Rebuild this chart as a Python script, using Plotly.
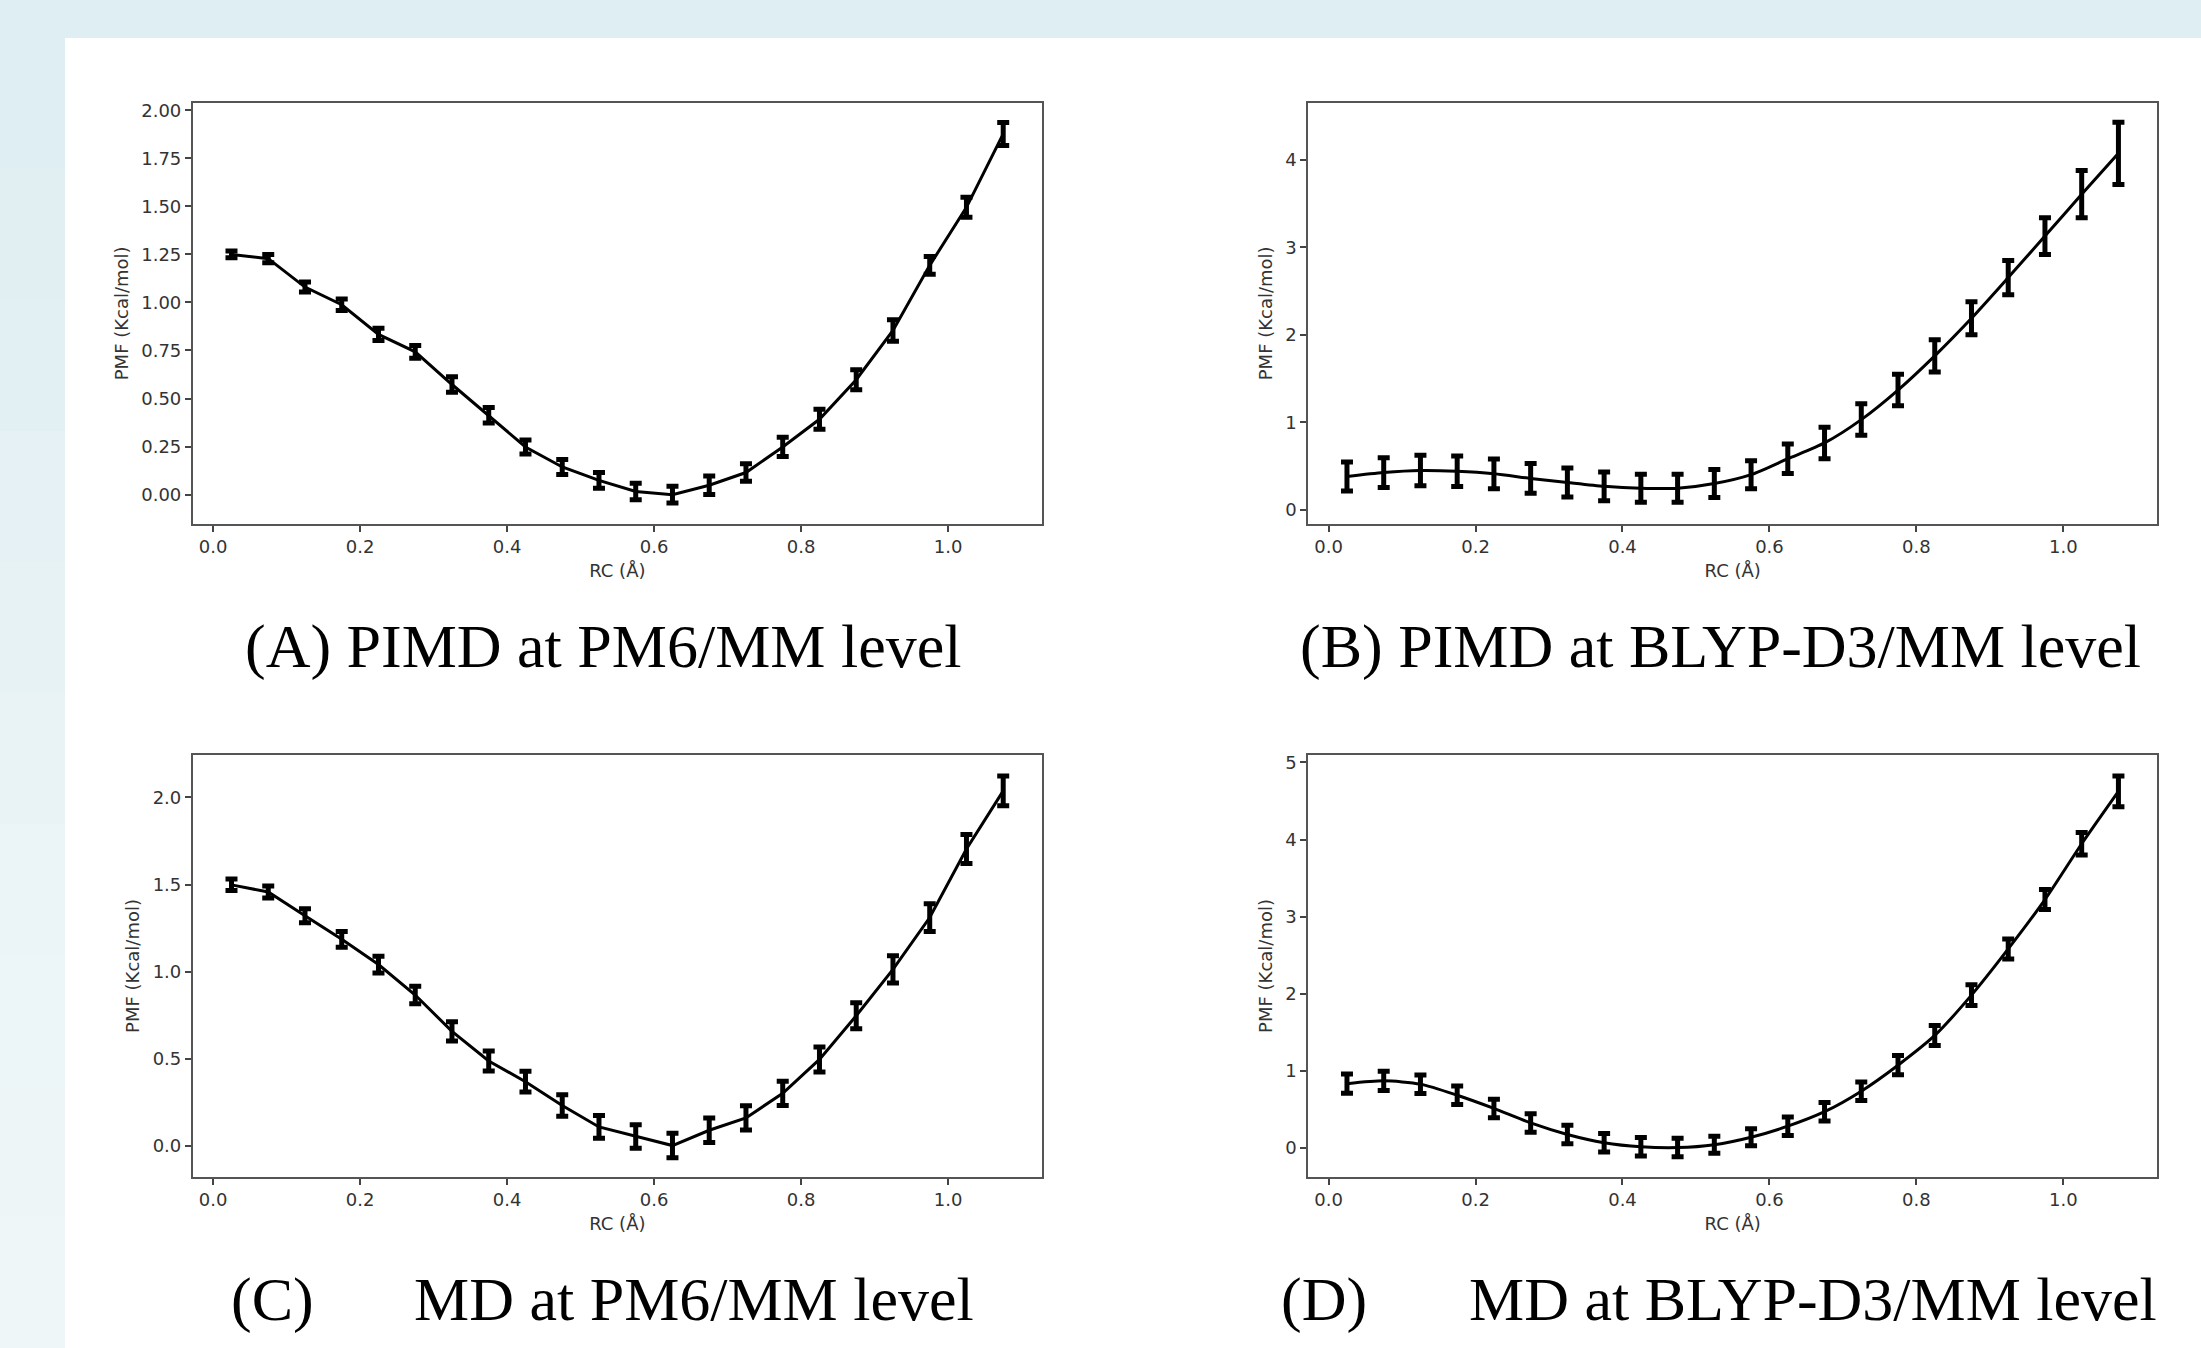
import plotly.graph_objects as go

W, H = 2201, 1348

rc = [0.025, 0.075, 0.125, 0.175, 0.225, 0.275, 0.325, 0.375, 0.425, 0.475, 0.525,
      0.575, 0.625, 0.675, 0.725, 0.775, 0.825, 0.875, 0.925, 0.975, 1.025, 1.075]

pmf_a = [1.25, 1.228, 1.08, 0.988, 0.834, 0.743, 0.573, 0.413, 0.248, 0.144, 0.074,
         0.016, 0.0, 0.049, 0.115, 0.248, 0.392, 0.598, 0.854, 1.193, 1.495, 1.877]
err_a = [0.018, 0.022, 0.026, 0.03, 0.032, 0.033, 0.04, 0.04, 0.036, 0.039, 0.041,
         0.043, 0.044, 0.048, 0.046, 0.05, 0.052, 0.052, 0.056, 0.046, 0.052, 0.06]

pmf_b = [0.379, 0.424, 0.447, 0.438, 0.41, 0.357, 0.31, 0.266, 0.244, 0.244, 0.298,
         0.40, 0.582, 0.763, 1.03, 1.368, 1.76, 2.19, 2.655, 3.13, 3.61, 4.077]
err_b = [0.165, 0.17, 0.175, 0.175, 0.17, 0.17, 0.165, 0.165, 0.16, 0.16, 0.16,
         0.16, 0.17, 0.18, 0.18, 0.18, 0.185, 0.19, 0.195, 0.21, 0.27, 0.355]

pmf_c = [1.498, 1.457, 1.32, 1.185, 1.04, 0.865, 0.656, 0.486, 0.367, 0.23, 0.107,
         0.052, 0.0, 0.088, 0.159, 0.30, 0.495, 0.746, 1.012, 1.31, 1.704, 2.038]
err_c = [0.033, 0.035, 0.04, 0.045, 0.048, 0.05, 0.055, 0.058, 0.06, 0.062, 0.065,
         0.068, 0.07, 0.07, 0.07, 0.07, 0.072, 0.075, 0.078, 0.08, 0.083, 0.086]

pmf_d = [0.83, 0.867, 0.824, 0.68, 0.509, 0.321, 0.171, 0.064, 0.011, 0.0, 0.037,
         0.134, 0.278, 0.466, 0.733, 1.07, 1.456, 1.98, 2.58, 3.22, 3.945, 4.625]
err_d = [0.125, 0.125, 0.12, 0.12, 0.12, 0.12, 0.12, 0.12, 0.12, 0.12, 0.11,
         0.11, 0.12, 0.12, 0.12, 0.125, 0.13, 0.135, 0.13, 0.13, 0.145, 0.2]

x_ticks = [0.0, 0.2, 0.4, 0.6, 0.8, 1.0]
y_ticks_a = [0.0, 0.25, 0.5, 0.75, 1.0, 1.25, 1.5, 1.75, 2.0]
y_ticks_b = [0, 1, 2, 3, 4]
y_ticks_c = [0.0, 0.5, 1.0, 1.5, 2.0]
y_ticks_d = [0, 1, 2, 3, 4, 5]

captions = ["(A) PIMD at PM6/MM level", "(B) PIMD at BLYP-D3/MM level",
            "(C)", "MD at PM6/MM level", "(D)", "MD at BLYP-D3/MM level"]
x_title = "RC (Å)"
y_title = "PMF (Kcal/mol)"

fig = go.Figure()

panels = [
    (pmf_a, err_a, "linear"),
    (pmf_b, err_b, "spline"),
    (pmf_c, err_c, "linear"),
    (pmf_d, err_d, "spline"),
]
for i, (vals, errs, shape) in enumerate(panels):
    sfx = "" if i == 0 else str(i + 1)
    fig.add_trace(go.Scatter(
        x=rc, y=vals, mode="lines",
        line=dict(color="black", width=3, shape=shape, smoothing=0.7),
        error_y=dict(type="data", array=errs, visible=True, color="black",
                     thickness=5, width=6),
        xaxis="x" + sfx, yaxis="y" + sfx, showlegend=False, hoverinfo="skip"))

dom_xl = [192.9 / W, 1041.8 / W]
dom_xr = [1308.4 / W, 2157.0 / W]
dom_yt = [1 - 522.0 / H, 1 - 100.0 / H]
dom_yb = [1 - 1176.5 / H, 1 - 753.7 / H]

tickfont = dict(family="DejaVu Sans", size=18, color="#333333")
titlefont = dict(family="DejaVu Sans", size=18, color="#333333")

def xax(domain, anchor):
    return dict(domain=domain, anchor=anchor, range=[-0.0275, 1.1275],
                tickvals=x_ticks, tickformat=".1f", ticks="outside", ticklen=6,
                tickwidth=2, tickcolor="#444444", showline=True, mirror=True,
                linecolor="#555555", linewidth=2, showgrid=False, zeroline=False,
                tickfont=tickfont, title=dict(text=x_title, font=titlefont, standoff=8))

def yax(domain, anchor, rng, ticks, fmt):
    return dict(domain=domain, anchor=anchor, range=rng, tickvals=ticks, tickformat=fmt,
                ticks="outside", ticklen=6, tickwidth=2, tickcolor="#444444",
                showline=True, mirror=True, linecolor="#555555", linewidth=2,
                showgrid=False, zeroline=False, tickfont=tickfont,
                title=dict(text=y_title, font=titlefont, standoff=8))

# background: light blue frame (top strip + left strip with soft vertical gradient)
bands = ["#dfeef2", "#e1eff3", "#e3f0f3", "#e5f1f4", "#e7f2f5", "#e9f3f6",
         "#ebf4f6", "#ecf5f7", "#edf5f7", "#eef6f8"]
shapes = []
top_px = 35
band_h = (H - top_px) / len(bands)
for k, col in enumerate(bands):
    y_top = top_px + k * band_h
    shapes.append(dict(type="rect", xref="paper", yref="paper", x0=0, x1=65 / W,
                       y0=1 - (y_top + band_h + 1) / H, y1=1 - y_top / H,
                       fillcolor=col, line=dict(width=0), layer="below"))
shapes.append(dict(type="rect", xref="paper", yref="paper", x0=65 / W, x1=1.0,
                   y0=0.0, y1=1 - top_px / H, fillcolor="white", line=dict(width=0),
                   layer="below"))

fig.update_layout(
    width=W, height=H,
    margin=dict(l=0, r=0, t=0, b=0),
    paper_bgcolor="#dfeef2",
    plot_bgcolor="white",
    xaxis=xax(dom_xl, "y"),
    yaxis=yax(dom_yt, "x", [-0.152, 2.039], y_ticks_a, ".2f"),
    xaxis2=xax(dom_xr, "y2"),
    yaxis2=yax(dom_yt, "x2", [-0.163, 4.656], y_ticks_b, "d"),
    xaxis3=xax(dom_xl, "y3"),
    yaxis3=yax(dom_yb, "x3", [-0.180, 2.244], y_ticks_c, ".1f"),
    xaxis4=xax(dom_xr, "y4"),
    yaxis4=yax(dom_yb, "x4", [-0.380, 5.097], y_ticks_d, "d"),
    shapes=shapes,
)

cap_font = dict(family="Liberation Serif", size=62, color="black")
cap_pos = [(603, 645), (1720, 645), (272, 1299), (694, 1299), (1324, 1299), (1813, 1299)]
for text, (px, py) in zip(captions, cap_pos):
    fig.add_annotation(text=text, x=px / W, y=1 - py / H, xref="paper", yref="paper",
                       xanchor="center", yanchor="middle", showarrow=False, font=cap_font)

fig.write_html("out.html",
               config={"displayModeBar": False},
               post_script="document.body.style.margin='0';document.body.style.padding='0';"
                           "document.body.style.overflow='hidden';")
